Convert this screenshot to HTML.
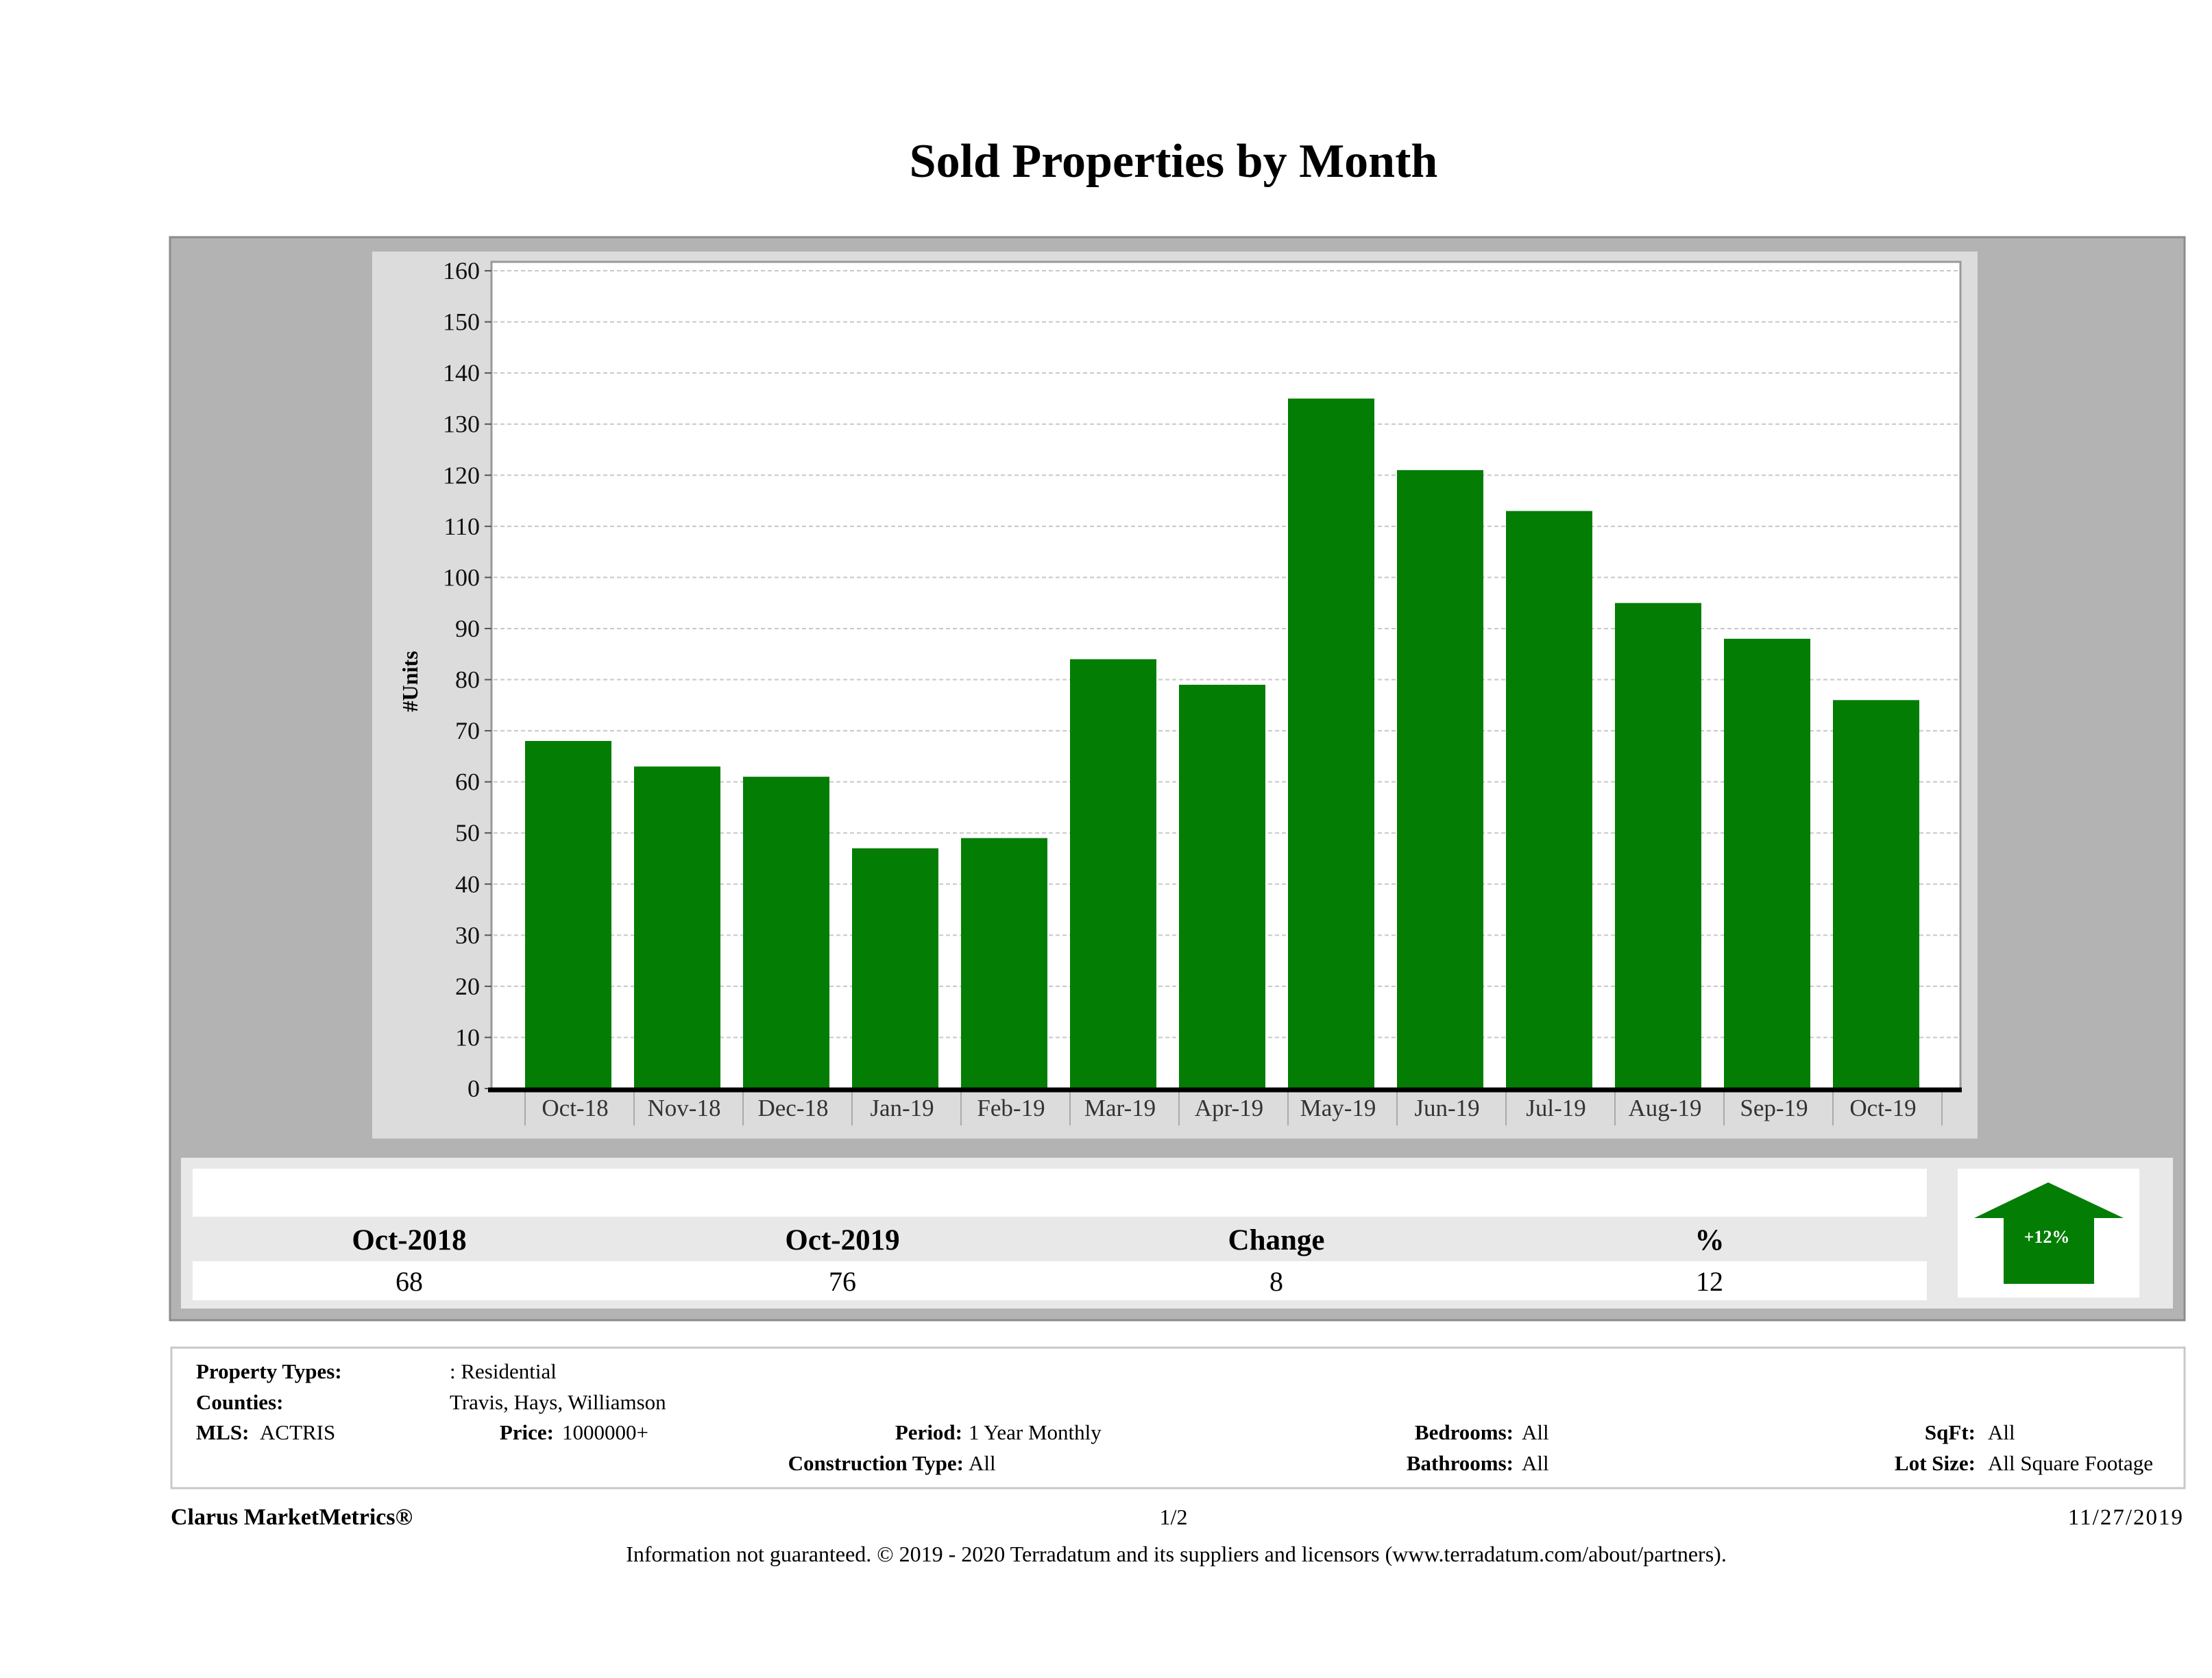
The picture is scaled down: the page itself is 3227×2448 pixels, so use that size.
<!DOCTYPE html>
<html><head><meta charset="utf-8"><style>
html,body{margin:0;padding:0;background:#fff;}
svg{display:block;font-family:"Liberation Serif",serif;}
</style></head><body>
<svg id="page" width="3227" height="2448" viewBox="0 0 3227 2448">
<text x="1712" y="258" text-anchor="middle" font-size="70" font-weight="bold">Sold Properties by Month</text>
<rect x="248" y="346" width="2939" height="1580" fill="#b3b3b3" stroke="#8c8c8c" stroke-width="3"/>
<rect x="543" y="367" width="2342" height="1294" fill="#dcdcdc"/>
<rect x="717" y="382" width="2143" height="1206" fill="#fff" stroke="#999" stroke-width="3"/>
<g id="grid"></g><g id="bars"></g><g id="yticks"></g><g id="xticks"></g>
<line x1="712" y1="1590" x2="2862" y2="1590" stroke="#000" stroke-width="7"/>
<text transform="translate(609,994) rotate(-90)" text-anchor="middle" font-size="32" font-weight="bold">#Units</text>

<rect x="264" y="1689" width="2906" height="220" fill="#e8e8e8"/>
<rect x="281" y="1705" width="2530" height="70" fill="#fff"/>
<rect x="281" y="1840" width="2530" height="57" fill="#fff"/>
<g font-size="43" font-weight="bold" text-anchor="middle">
<text x="597" y="1823">Oct-2018</text>
<text x="1229" y="1823">Oct-2019</text>
<text x="1862" y="1823">Change</text>
<text x="2494" y="1823">%</text>
</g>
<g font-size="40" text-anchor="middle">
<text x="597" y="1883">68</text>
<text x="1229" y="1883">76</text>
<text x="1862" y="1883">8</text>
<text x="2494" y="1883">12</text>
</g>
<rect x="2856" y="1705" width="265" height="188" fill="#fff"/>
<polygon points="2988,1725 3098,1777 3055,1777 3055,1873 2923,1873 2923,1777 2880,1777" fill="#047d04"/>
<text x="2986" y="1813" text-anchor="middle" font-size="26" font-weight="bold" fill="#fff">+12%</text>

<rect x="250" y="1966" width="2937" height="205" fill="#fff" stroke="#c8c8c8" stroke-width="3"/>
<g font-size="31">
<text x="286" y="2011" font-weight="bold">Property Types:</text>
<text x="656" y="2011">: Residential</text>
<text x="286" y="2056" font-weight="bold">Counties:</text>
<text x="656" y="2056">Travis, Hays, Williamson</text>
<text x="286" y="2100" font-weight="bold">MLS:</text>
<text x="379" y="2100">ACTRIS</text>
<text x="808" y="2100" font-weight="bold" text-anchor="end">Price:</text>
<text x="820" y="2100">1000000+</text>
<text x="1404" y="2100" font-weight="bold" text-anchor="end">Period:</text>
<text x="1413" y="2100">1 Year Monthly</text>
<text x="1406" y="2145" font-weight="bold" text-anchor="end">Construction Type:</text>
<text x="1413" y="2145">All</text>
<text x="2208" y="2100" font-weight="bold" text-anchor="end">Bedrooms:</text>
<text x="2220" y="2100">All</text>
<text x="2208" y="2145" font-weight="bold" text-anchor="end">Bathrooms:</text>
<text x="2220" y="2145">All</text>
<text x="2882" y="2100" font-weight="bold" text-anchor="end">SqFt:</text>
<text x="2900" y="2100">All</text>
<text x="2882" y="2145" font-weight="bold" text-anchor="end">Lot Size:</text>
<text x="2900" y="2145">All Square Footage</text>
</g>
<text x="249" y="2224" font-size="34" font-weight="bold">Clarus MarketMetrics®</text>
<text x="1712" y="2224" font-size="32" text-anchor="middle">1/2</text>
<text x="3186" y="2224" font-size="33" text-anchor="end" letter-spacing="2">11/27/2019</text>
<text x="1716" y="2278" font-size="32" text-anchor="middle">Information not guaranteed. © 2019 - 2020 Terradatum and its suppliers and licensors (www.terradatum.com/about/partners).</text>
</svg>
<script>
const categories = ["Oct-18","Nov-18","Dec-18","Jan-19","Feb-19","Mar-19","Apr-19","May-19","Jun-19","Jul-19","Aug-19","Sep-19","Oct-19"];
const soldUnits = [68,63,61,47,49,84,79,135,121,113,95,88,76];
const yTicks = [0,10,20,30,40,50,60,70,80,90,100,110,120,130,140,150,160];

const NS = "http://www.w3.org/2000/svg";
const plotBottom = 1588, pxPerUnit = 7.456;
const slotStart = 766, slotWidth = 159, barWidth = 126;
const yScale = v => plotBottom - v * pxPerUnit;
const xSlot = i => slotStart + i * slotWidth;
function mk(tag, attrs, parent) {
  const e = document.createElementNS(NS, tag);
  for (const k in attrs) e.setAttribute(k, attrs[k]);
  parent.appendChild(e);
  return e;
}
const grid = document.getElementById("grid"), bars = document.getElementById("bars");
const yt = document.getElementById("yticks"), xt = document.getElementById("xticks");
yTicks.forEach(t => {
  const y = yScale(t);
  if (t > 0) {
    const g = mk("line", {x1: 720, x2: 2857, y1: y, y2: y, stroke: "#c8c8c8", "stroke-width": 2, "stroke-dasharray": "6,4"}, grid);
    
    
  }
  const tk = mk("line", {x1: 707, x2: 717, y1: y, y2: y, stroke: "#555", "stroke-width": 2}, yt);
  
  
  const tx = mk("text", {x: 700, y: y + 12, "text-anchor": "end", "font-size": 36, fill: "#111"}, yt);
  tx.textContent = t;
  
  
});
categories.forEach((c, i) => {
  const x = xSlot(i), v = soldUnits[i];
  const b = mk("rect", {x: x, y: yScale(v), width: barWidth, height: v * pxPerUnit, fill: "#047d04"}, bars);
  
  
  const tk = mk("line", {x1: x, x2: x, y1: 1592, y2: 1642, stroke: "#aaa", "stroke-width": 2}, xt);
  
  
  const tx = mk("text", {x: x + barWidth / 2 + 10, y: 1628, "text-anchor": "middle", "font-size": 35, fill: "#333"}, xt);
  tx.textContent = c;
  
  
});
const last = xSlot(categories.length);
const lt = mk("line", {x1: last, x2: last, y1: 1592, y2: 1642, stroke: "#aaa", "stroke-width": 2}, xt);


</script>
</body></html>
